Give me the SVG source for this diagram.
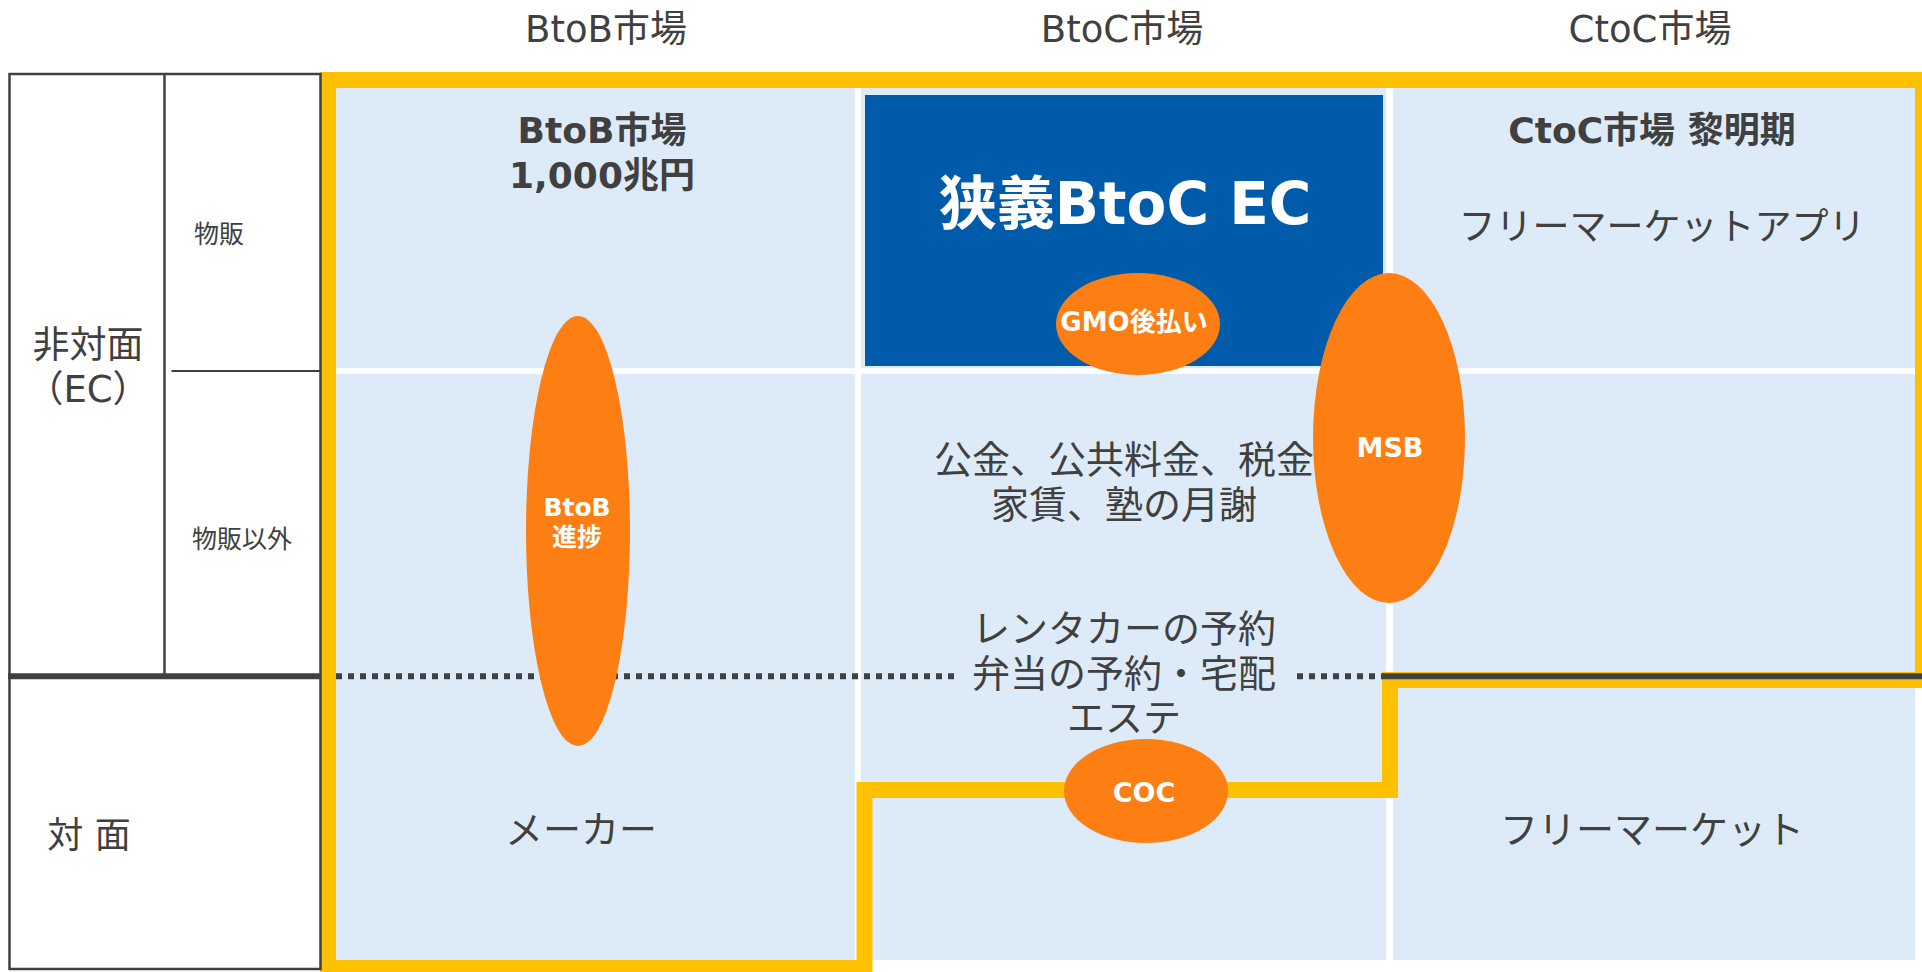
<svg xmlns="http://www.w3.org/2000/svg" width="1922" height="972" viewBox="0 0 1922 972">
<style>
text{font-family:"DejaVu Sans","Noto Sans CJK JP",sans-serif;fill:#404040;text-anchor:middle}
.b{font-weight:bold}
.w{fill:#ffffff;font-weight:bold}
.cell{fill:#DDEBF8}
.ell{fill:#FD7F14}
.ln{stroke:#404040;fill:none}
</style>
<rect x="0" y="0" width="1922" height="972" fill="#ffffff"/>
<g id="headers">
<text x="606" y="42" font-size="37">BtoB市場</text>
<text x="1122" y="42" font-size="37">BtoC市場</text>
<text x="1650" y="42" font-size="37">CtoC市場</text>
</g>
<g id="cells">
<rect class="cell" x="335" y="88" width="520" height="280"/>
<rect class="cell" x="335" y="374" width="520" height="586"/>
<rect class="cell" x="861" y="88" width="525" height="280"/>
<rect class="cell" x="861" y="374" width="525" height="586"/>
<rect class="cell" x="1393" y="88" width="522" height="280"/>
<rect class="cell" x="1393" y="374" width="522" height="586"/>
</g>
<g id="btoc-ec">
<rect x="865" y="95" width="518" height="271" fill="#005BAB"/>
<text class="w" x="1125" y="224" font-size="58">狭義BtoC EC</text>
</g>
<g id="connectors">
<path d="M328,80 H1923 V680 H1390 V790 H864.5 V968 H328 Z" fill="none" stroke="#FFC000" stroke-width="16"/>
<line class="ln" x1="336" y1="676.3" x2="954" y2="676.3" stroke-width="6" stroke-dasharray="6 6"/>
<line class="ln" x1="1297" y1="676.3" x2="1382" y2="676.3" stroke-width="6" stroke-dasharray="6 6"/>
<line class="ln" x1="1382" y1="676.3" x2="1922" y2="676.3" stroke-width="6"/>
</g>
<g id="left-table">
<rect x="9.5" y="74" width="311" height="895" fill="none" stroke="#404040" stroke-width="2.5"/>
<line class="ln" x1="164.5" y1="74" x2="164.5" y2="676" stroke-width="2.5"/>
<line class="ln" x1="171.5" y1="371" x2="320" y2="371" stroke-width="2"/>
<line class="ln" x1="8" y1="676.3" x2="321" y2="676.3" stroke-width="6"/>
<text x="219" y="243" font-size="25">物販</text>
<text x="192" y="548" font-size="25" style="text-anchor:start">物販以外</text>
<text x="88" y="358" font-size="37">非対面</text>
<text x="88" y="402" font-size="37">（EC）</text>
<text x="89" y="848" font-size="36">対 面</text>
</g>
<g id="btob-cell">
<text class="b" x="602" y="143" font-size="36">BtoB市場</text>
<text class="b" x="602" y="188" font-size="36">1,000兆円</text>
<text x="581" y="843" font-size="38">メーカー</text>
</g>
<g id="ctoc-cell">
<text class="b" x="1652" y="143" font-size="36">CtoC市場 黎明期</text>
<text x="1662" y="240" font-size="37">フリーマーケットアプリ</text>
<text x="1652" y="843" font-size="38">フリーマーケット</text>
</g>
<g id="btoc-cell">
<text x="1124" y="473" font-size="38">公金、公共料金、税金</text>
<text x="1124" y="518" font-size="38">家賃、塾の月謝</text>
<text x="1124" y="642" font-size="38">レンタカーの予約</text>
<text x="1124" y="687" font-size="38">弁当の予約・宅配</text>
<text x="1124" y="731" font-size="38">エステ</text>
</g>
<g id="btob-progress">
<ellipse class="ell" cx="578" cy="531" rx="52" ry="215"/>
<text class="w" x="577" y="516" font-size="25">BtoB</text>
<text class="w" x="577" y="546" font-size="25">進捗</text>
</g>
<g id="gmo">
<ellipse class="ell" cx="1138" cy="324" rx="82" ry="51"/>
<text class="w" x="1134" y="331" font-size="26">GMO後払い</text>
</g>
<g id="msb">
<ellipse class="ell" cx="1389" cy="438" rx="76" ry="165"/>
<text class="w" x="1390" y="457" font-size="27">MSB</text>
</g>
<g id="coc">
<ellipse class="ell" cx="1146" cy="791" rx="82" ry="52"/>
<text class="w" x="1144" y="802" font-size="27">COC</text>
</g>
</svg>
